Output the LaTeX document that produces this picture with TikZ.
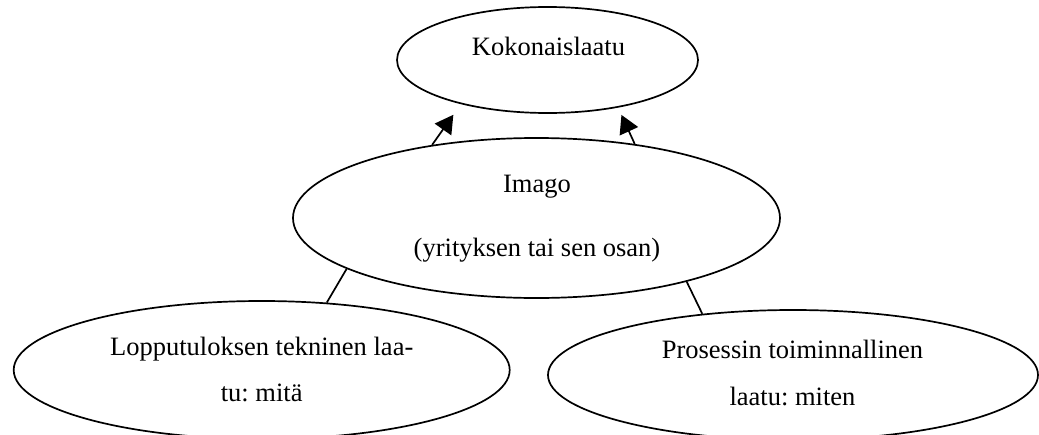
\documentclass[tikz,border=0pt]{standalone}
\usepackage{fontspec}
\setmainfont{Liberation Serif}
\usetikzlibrary{shapes.geometric,arrows.meta}
\frenchspacing

\begin{document}
\begin{tikzpicture}[x=1pt,y=-1pt,
  oval/.style={draw=black, line width=1.7pt, ellipse, inner sep=0pt},
  txt/.style={inner sep=0pt, anchor=base, font=\fontsize{26.5pt}{30pt}\selectfont},
  link/.style={draw=black, line width=1.7pt},
  arrow/.style={link, -{Triangle[length=18pt,width=20pt]}}]

\useasboundingbox (0,0) rectangle (1039,434);
\clip (0,0) rectangle (1039,434);

% ellipses
\node[oval, minimum width=301pt, minimum height=106pt] (top) at (547.5,60) {};
\node[oval, minimum width=487pt, minimum height=160pt] (mid) at (536.5,218) {};
\node[oval, minimum width=496pt, minimum height=138pt] (left) at (261.7,370) {};
\node[oval, minimum width=490pt, minimum height=130pt] (right) at (793,375) {};

% labels
\node[txt] (ttop) at (548.5,55) {Kokonaislaatu};
\node[txt] (tmid1) at (537,192) {Imago};
\node[txt] (tmid2) at (537,256) {(yrityksen tai sen osan)};
\node[txt] (tleft1) at (261.7,355) {Lopputuloksen tekninen laa-};
\node[txt] (tleft2) at (261.7,401) {tu: mitä};
\node[txt] (tright1) at (792.5,358) {Prosessin toiminnallinen};
\node[txt] (tright2) at (792.5,405) {laatu: miten};

% connectors
\draw[arrow, shorten >=13pt] (mid.145.1) -- (top.207.2);
\draw[arrow, shorten >=8pt] (mid.37.7) -- (top.326.3);
\draw[link] (left.46.7) -- (mid.195.3);
\draw[link] (right.146.9) -- (mid.337.4);
\end{tikzpicture}
\end{document}
